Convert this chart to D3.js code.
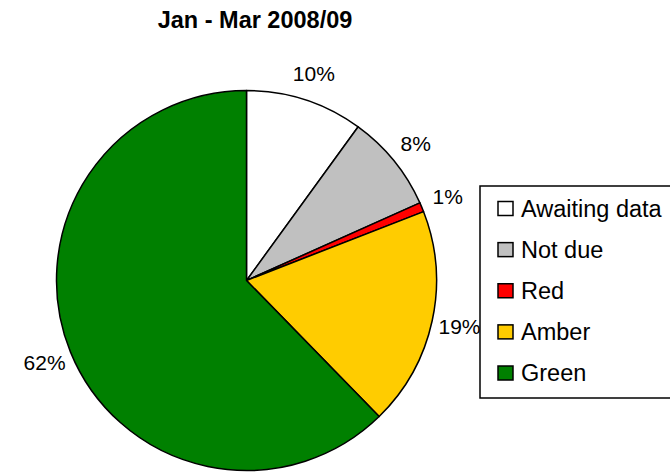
<!DOCTYPE html>
<html>
<head>
<meta charset="utf-8">
<script src="https://cdn.jsdelivr.net/npm/d3@7"></script>
<style>
  body { margin: 0; background: #fff; }
  text { font-family: "Liberation Sans", Arial, sans-serif; }
</style>
</head>
<body>
<svg></svg>
<script>
var categories = ['Awaiting data', 'Not due', 'Red', 'Amber', 'Green'];
var values = [10.0, 8.3, 0.8, 18.6, 62.3];
var labels = ['10%', '8%', '1%', '19%', '62%'];
var colors = ['#ffffff', '#c0c0c0', '#ff0000', '#ffcc00', '#008000'];

var width = 670;
var height = 472;
var radius = 190;

var svg = d3.select('svg')
    .attr('width', width)
    .attr('height', height);

svg.append('text')
    .attr('x', 255)
    .attr('y', 28)
    .attr('text-anchor', 'middle')
    .attr('font-size', 23.5)
    .attr('font-weight', 'bold')
    .text('Jan - Mar 2008/09');

var colorScale = d3.scaleOrdinal()
                   .domain(categories)
                   .range(colors);

var chart = svg.append('g')
    .attr('transform', 'translate(246.5, 280.5)');

// no sorting, start at 12 o'clock and go clockwise like excel
var arcs = d3.pie()
             .sort(null)
             .value(d => d)
             (values);

var path = d3.arc()
             .outerRadius(radius)
             .innerRadius(0);

// labels sit outside the slice, at the middle angle
var labelArc = d3.arc()
                 .outerRadius(218)
                 .innerRadius(218);

chart.selectAll('.arc')
  .data(arcs)
  .enter()
  .append('path')
    .classed('arc', true)
    .attr('fill', (d, i) => colorScale(categories[i]))
    .attr('stroke', 'black')
    .attr('stroke-width', 1.5)
    .attr('stroke-linejoin', 'round')
    .attr('d', path);

chart.selectAll('.lbl')
  .data(arcs)
  .enter()
  .append('text')
    .classed('lbl', true)
    .attr('x', d => labelArc.centroid(d)[0])
    .attr('y', d => labelArc.centroid(d)[1])
    .attr('dy', '0.36em')
    .attr('text-anchor', 'middle')
    .attr('font-size', 21)
    .text((d, i) => labels[i]);

// legend box on the right, runs off the edge
var legend = svg.append('g')
    .attr('transform', 'translate(480, 186)');

legend.append('rect')
    .attr('width', 200)
    .attr('height', 212)
    .attr('fill', 'white')
    .attr('stroke', 'black')
    .attr('stroke-width', 1.5);

var rowScale = d3.scalePoint()
                 .domain(categories)
                 .range([22.5, 187]);

var rows = legend.selectAll('.row')
  .data(categories)
  .enter()
  .append('g')
    .classed('row', true)
    .attr('transform', d => 'translate(0,' + rowScale(d) + ')');

rows.append('rect')
    .attr('x', 18)
    .attr('y', -7)
    .attr('width', 15)
    .attr('height', 14)
    .attr('fill', d => colorScale(d))
    .attr('stroke', 'black')
    .attr('stroke-width', 1.5);

rows.append('text')
    .attr('x', 41)
    .attr('y', 8)
    .attr('font-size', 23.5)
    .text(d => d);
</script>
</body>
</html>
